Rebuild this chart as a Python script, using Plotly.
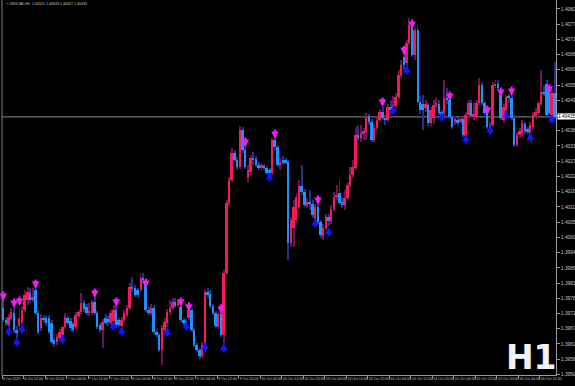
import numpy as np
import plotly.graph_objects as go

# ---------------- data (USDCAD, H1) ----------------
open_ = [
    1.39745, 1.39702, 1.39684, 1.39709, 1.39727, 1.39666, 1.39680, 1.39695, 1.39738, 1.39774,
    1.39799, 1.39774, 1.39810, 1.39727, 1.39673, 1.39709, 1.39709, 1.39709, 1.39691, 1.39630,
    1.39622, 1.39637, 1.39648, 1.39676, 1.39709, 1.39698, 1.39687, 1.39676, 1.39716, 1.39731,
    1.39763, 1.39749, 1.39727, 1.39727, 1.39767, 1.39727, 1.39684, 1.39666, 1.39709, 1.39705,
    1.39691, 1.39698, 1.39738, 1.39702, 1.39680, 1.39702, 1.39720, 1.39745, 1.39821, 1.39817,
    1.39810, 1.39810, 1.39853, 1.39835, 1.39738, 1.39727, 1.39745, 1.39658, 1.39648, 1.39594,
    1.39666, 1.39691, 1.39731, 1.39745, 1.39767, 1.39756, 1.39749, 1.39702, 1.39698, 1.39709,
    1.39738, 1.39666, 1.39612, 1.39594, 1.39572, 1.39612, 1.39803, 1.39796, 1.39752, 1.39727,
    1.39676, 1.39724, 1.39648, 1.39871, 1.40124, 1.40207, 1.40305, 1.40279, 1.40254, 1.40388,
    1.40316, 1.40218, 1.40236, 1.40287, 1.40283, 1.40261, 1.40250, 1.40258, 1.40250, 1.40243,
    1.40232, 1.40352, 1.40326, 1.40261, 1.40279, 1.40279, 1.40272, 1.39980, 1.40034, 1.40063,
    1.40110, 1.40185, 1.40164, 1.40117, 1.40128, 1.40121, 1.40070, 1.40110, 1.40056, 1.40005,
    1.40034, 1.40074, 1.40059, 1.40102, 1.40146, 1.40160, 1.40128, 1.40117, 1.40142, 1.40189,
    1.40225, 1.40250, 1.40370, 1.40359, 1.40373, 1.40380, 1.40438, 1.40417, 1.40352, 1.40395,
    1.40424, 1.40453, 1.40431, 1.40424, 1.40471, 1.40460, 1.40474, 1.40507, 1.40586, 1.40651,
    1.40630, 1.40702, 1.40759, 1.40658, 1.40749, 1.40489, 1.40482, 1.40467, 1.40478, 1.40413,
    1.40431, 1.40474, 1.40482, 1.40453, 1.40449, 1.40503, 1.40496, 1.40435, 1.40417, 1.40424,
    1.40417, 1.40427, 1.40366, 1.40442, 1.40485, 1.40438, 1.40435, 1.40485, 1.40550, 1.40485,
    1.40449, 1.40406, 1.40406, 1.40550, 1.40554, 1.40514, 1.40424, 1.40460, 1.40507, 1.40503,
    1.40431, 1.40334, 1.40370, 1.40377, 1.40409, 1.40391, 1.40377, 1.40398, 1.40438, 1.40449,
    1.40482, 1.40525, 1.40554, 1.40539, 1.40442, 1.40521,
]
high = [
    1.39774, 1.39709, 1.39723, 1.39745, 1.39756, 1.39680, 1.39745, 1.39752, 1.39810, 1.39821,
    1.39817, 1.39817, 1.39821, 1.39734, 1.39724, 1.39720, 1.39716, 1.39720, 1.39702, 1.39640,
    1.39651, 1.39669, 1.39684, 1.39727, 1.39716, 1.39709, 1.39695, 1.39731, 1.39738, 1.39799,
    1.39774, 1.39760, 1.39763, 1.39774, 1.39785, 1.39734, 1.39691, 1.39705, 1.39724, 1.39716,
    1.39738, 1.39756, 1.39752, 1.39709, 1.39713, 1.39738, 1.39756, 1.39835, 1.39857, 1.39828,
    1.39817, 1.39868, 1.39871, 1.39843, 1.39749, 1.39760, 1.39756, 1.39669, 1.39655, 1.39684,
    1.39709, 1.39742, 1.39774, 1.39781, 1.39781, 1.39778, 1.39756, 1.39709, 1.39705, 1.39742,
    1.39745, 1.39673, 1.39619, 1.39601, 1.39622, 1.39810, 1.39817, 1.39810, 1.39760, 1.39734,
    1.39731, 1.39731, 1.39882, 1.40135, 1.40218, 1.40323, 1.40316, 1.40290, 1.40402, 1.40398,
    1.40334, 1.40261, 1.40297, 1.40308, 1.40294, 1.40272, 1.40269, 1.40265, 1.40258, 1.40250,
    1.40359, 1.40359, 1.40334, 1.40287, 1.40294, 1.40287, 1.40279, 1.40074, 1.40135, 1.40160,
    1.40207, 1.40261, 1.40175, 1.40142, 1.40171, 1.40135, 1.40121, 1.40121, 1.40063, 1.40048,
    1.40084, 1.40084, 1.40117, 1.40164, 1.40189, 1.40207, 1.40142, 1.40171, 1.40200, 1.40254,
    1.40279, 1.40398, 1.40406, 1.40406, 1.40395, 1.40449, 1.40445, 1.40427, 1.40406, 1.40435,
    1.40463, 1.40474, 1.40442, 1.40482, 1.40496, 1.40510, 1.40521, 1.40604, 1.40640, 1.40662,
    1.40713, 1.40792, 1.40785, 1.40756, 1.40767, 1.40510, 1.40514, 1.40496, 1.40485, 1.40471,
    1.40496, 1.40503, 1.40496, 1.40460, 1.40568, 1.40539, 1.40500, 1.40442, 1.40438, 1.40435,
    1.40438, 1.40435, 1.40453, 1.40496, 1.40496, 1.40485, 1.40496, 1.40575, 1.40561, 1.40492,
    1.40453, 1.40417, 1.40561, 1.40568, 1.40568, 1.40518, 1.40482, 1.40514, 1.40518, 1.40514,
    1.40442, 1.40380, 1.40395, 1.40424, 1.40417, 1.40398, 1.40417, 1.40453, 1.40467, 1.40496,
    1.40604, 1.40546, 1.40568, 1.40546, 1.40532, 1.40633,
]
low = [
    1.39695, 1.39680, 1.39676, 1.39702, 1.39655, 1.39637, 1.39666, 1.39684, 1.39731, 1.39756,
    1.39763, 1.39767, 1.39720, 1.39651, 1.39662, 1.39691, 1.39680, 1.39651, 1.39615, 1.39604,
    1.39612, 1.39626, 1.39640, 1.39669, 1.39684, 1.39662, 1.39658, 1.39669, 1.39709, 1.39724,
    1.39731, 1.39720, 1.39716, 1.39720, 1.39720, 1.39669, 1.39658, 1.39601, 1.39684, 1.39680,
    1.39684, 1.39695, 1.39676, 1.39676, 1.39676, 1.39695, 1.39713, 1.39738, 1.39803, 1.39785,
    1.39785, 1.39803, 1.39832, 1.39731, 1.39720, 1.39720, 1.39651, 1.39640, 1.39586, 1.39539,
    1.39658, 1.39676, 1.39720, 1.39738, 1.39745, 1.39749, 1.39695, 1.39684, 1.39687, 1.39702,
    1.39658, 1.39604, 1.39586, 1.39561, 1.39565, 1.39601, 1.39781, 1.39745, 1.39720, 1.39673,
    1.39669, 1.39640, 1.39619, 1.39864, 1.40113, 1.40200, 1.40272, 1.40243, 1.40247, 1.40305,
    1.40247, 1.40200, 1.40225, 1.40261, 1.40254, 1.40243, 1.40243, 1.40243, 1.40225, 1.40229,
    1.40225, 1.40316, 1.40254, 1.40243, 1.40261, 1.40265, 1.39918, 1.39965, 1.39965, 1.40056,
    1.40102, 1.40153, 1.40110, 1.40106, 1.40099, 1.40070, 1.40056, 1.40048, 1.39998, 1.39991,
    1.40027, 1.40041, 1.40048, 1.40095, 1.40135, 1.40117, 1.40106, 1.40099, 1.40135, 1.40178,
    1.40214, 1.40243, 1.40348, 1.40344, 1.40352, 1.40352, 1.40406, 1.40344, 1.40344, 1.40388,
    1.40417, 1.40424, 1.40406, 1.40417, 1.40449, 1.40456, 1.40467, 1.40500, 1.40575, 1.40604,
    1.40619, 1.40695, 1.40651, 1.40640, 1.40478, 1.40445, 1.40388, 1.40453, 1.40402, 1.40402,
    1.40409, 1.40467, 1.40442, 1.40435, 1.40438, 1.40482, 1.40427, 1.40391, 1.40406, 1.40406,
    1.40409, 1.40362, 1.40362, 1.40435, 1.40431, 1.40424, 1.40427, 1.40478, 1.40478, 1.40442,
    1.40391, 1.40388, 1.40398, 1.40539, 1.40532, 1.40424, 1.40413, 1.40453, 1.40485, 1.40424,
    1.40326, 1.40326, 1.40359, 1.40366, 1.40373, 1.40373, 1.40373, 1.40391, 1.40427, 1.40442,
    1.40474, 1.40510, 1.40435, 1.40442, 1.40435, 1.40427,
]
close = [
    1.39702, 1.39691, 1.39713, 1.39731, 1.39666, 1.39655, 1.39709, 1.39738, 1.39792, 1.39803,
    1.39774, 1.39785, 1.39727, 1.39658, 1.39709, 1.39702, 1.39691, 1.39658, 1.39622, 1.39615,
    1.39640, 1.39658, 1.39676, 1.39713, 1.39691, 1.39673, 1.39666, 1.39720, 1.39731, 1.39763,
    1.39742, 1.39727, 1.39734, 1.39767, 1.39727, 1.39676, 1.39666, 1.39695, 1.39691, 1.39695,
    1.39727, 1.39738, 1.39684, 1.39684, 1.39702, 1.39727, 1.39745, 1.39821, 1.39814, 1.39792,
    1.39792, 1.39853, 1.39846, 1.39738, 1.39727, 1.39745, 1.39658, 1.39648, 1.39594, 1.39673,
    1.39695, 1.39731, 1.39745, 1.39767, 1.39752, 1.39767, 1.39702, 1.39691, 1.39691, 1.39738,
    1.39666, 1.39612, 1.39594, 1.39572, 1.39612, 1.39803, 1.39792, 1.39752, 1.39727, 1.39680,
    1.39724, 1.39648, 1.39871, 1.40124, 1.40207, 1.40305, 1.40279, 1.40254, 1.40388, 1.40316,
    1.40254, 1.40243, 1.40287, 1.40279, 1.40261, 1.40254, 1.40261, 1.40250, 1.40232, 1.40232,
    1.40352, 1.40326, 1.40261, 1.40272, 1.40269, 1.40272, 1.39980, 1.40063, 1.40110, 1.40146,
    1.40185, 1.40164, 1.40117, 1.40128, 1.40121, 1.40081, 1.40110, 1.40056, 1.40009, 1.40034,
    1.40074, 1.40059, 1.40102, 1.40146, 1.40153, 1.40124, 1.40117, 1.40142, 1.40189, 1.40225,
    1.40254, 1.40370, 1.40359, 1.40377, 1.40384, 1.40435, 1.40417, 1.40352, 1.40395, 1.40424,
    1.40453, 1.40431, 1.40424, 1.40471, 1.40460, 1.40478, 1.40507, 1.40586, 1.40622, 1.40622,
    1.40702, 1.40767, 1.40658, 1.40749, 1.40489, 1.40460, 1.40460, 1.40482, 1.40413, 1.40460,
    1.40478, 1.40485, 1.40449, 1.40442, 1.40503, 1.40496, 1.40435, 1.40398, 1.40427, 1.40413,
    1.40427, 1.40370, 1.40442, 1.40485, 1.40438, 1.40445, 1.40485, 1.40550, 1.40485, 1.40449,
    1.40398, 1.40395, 1.40550, 1.40554, 1.40539, 1.40431, 1.40471, 1.40507, 1.40505, 1.40431,
    1.40334, 1.40370, 1.40384, 1.40413, 1.40384, 1.40380, 1.40406, 1.40442, 1.40453, 1.40485,
    1.40525, 1.40518, 1.40442, 1.40449, 1.40521, 1.40435,
]

# signal arrows: bar index and price (centre of arrow)
sell_bars = [0, 4, 6, 12, 34, 42, 53, 66, 69, 81, 90, 101, 117, 141, 149, 152, 166, 180, 185, 189, 203]
sell_prices = [1.39788, 1.39763, 1.39770, 1.39832, 1.39799, 1.39767, 1.39835, 1.39767, 1.39749, 1.39742,
               1.40344, 1.40373, 1.40135, 1.40489, 1.40676, 1.40770, 1.40510, 1.40460, 1.40525, 1.40528,
               1.40536]
buy_bars = [2, 5, 7, 22, 41, 44, 61, 68, 75, 82, 99, 116, 121, 145, 150, 163, 172, 181, 187, 196, 204]
buy_prices = [1.39662, 1.39622, 1.39669, 1.39633, 1.39680, 1.39662, 1.39658, 1.39680, 1.39604, 1.39601,
              1.40218, 1.40052, 1.40020, 1.40460, 1.40604, 1.40435, 1.40355, 1.40388, 1.40442, 1.40362,
              1.40427]

# time axis labels (bar index of each label)
time_label_bars = [0, 8, 16, 24, 32, 40, 48, 56, 64, 72, 80, 88, 96, 104, 112, 120, 128, 136,
                   144, 152, 160, 168, 176, 184, 192, 200]
time_labels = ["6 Oct 2025", "6 Oct 12:00", "6 Oct 20:00", "7 Oct 04:00", "7 Oct 12:00", "7 Oct 20:00",
               "8 Oct 04:00", "8 Oct 12:00", "8 Oct 20:00", "9 Oct 04:00", "9 Oct 12:00", "9 Oct 20:00",
               "10 Oct 04:00", "10 Oct 12:00", "10 Oct 20:00", "13 Oct 04:00", "13 Oct 12:00",
               "13 Oct 20:00", "14 Oct 04:00", "14 Oct 12:00", "14 Oct 20:00", "15 Oct 04:00",
               "15 Oct 12:00", "15 Oct 20:00", "16 Oct 04:00", "16 Oct 12:00"]

price_ticks = [1.40825, 1.40770, 1.40715, 1.40660, 1.40605, 1.40550, 1.40495, 1.40440, 1.40385,
               1.40330, 1.40275, 1.40220, 1.40165, 1.40110, 1.40055, 1.40000, 1.39945, 1.39890,
               1.39835, 1.39780, 1.39725, 1.39670, 1.39615, 1.39560, 1.39505]

symbol = "USDCAD,H1"
timeframe = "H1"

# ---------------- styles ----------------
UP = "#F5195A"
DOWN = "#1E90FF"
UP_WICK = "#6A1458"
DOWN_WICK = "#23318A"
SELL = "#F01EF0"
BUY = "#1414FF"
AXIS = "#9a9a9a"
TXT = "#c8c8c8"

o = np.array(open_)
h = np.array(high)
l = np.array(low)
c = np.array(close)
x = np.arange(len(c))
up = c > o

body_base = np.minimum(o, c)
body_size = np.maximum(np.abs(c - o), 0.00002)

fig = go.Figure()
fig.add_trace(go.Bar(
    x=x, base=l, y=h - l, width=0.36,
    marker=dict(color=np.where(up, UP_WICK, DOWN_WICK).tolist(), line=dict(width=0)),
    hoverinfo="skip", showlegend=False))
fig.add_trace(go.Bar(
    x=x, base=body_base, y=body_size, width=0.74,
    marker=dict(color=np.where(up, UP, DOWN).tolist(), line=dict(width=0)),
    hoverinfo="skip", showlegend=False))

# arrows (stem + head) drawn as annotation arrows anchored at each signal
for b, p in zip(sell_bars, sell_prices):
    fig.add_annotation(x=b, y=p, xref="x", yref="y", text="", showarrow=True,
                       ax=0, ay=-11, arrowhead=2, arrowsize=0.72, arrowwidth=2.1,
                       arrowcolor=SELL, yshift=-5)
for b, p in zip(buy_bars, buy_prices):
    fig.add_annotation(x=b, y=p, xref="x", yref="y", text="", showarrow=True,
                       ax=0, ay=11, arrowhead=2, arrowsize=0.72, arrowwidth=2.1,
                       arrowcolor=BUY, yshift=5)

last = close[-1]
fig.add_shape(type="line", xref="paper", x0=0, x1=1, yref="y", y0=last, y1=last,
              line=dict(color="#8a8a8a", width=1), layer="below")
fig.add_shape(type="line", xref="paper", x0=0, x1=0, yref="paper", y0=0, y1=1,
              line=dict(color="#808080", width=1))

fig.add_annotation(xref="paper", yref="y", x=1, y=last, xanchor="left", yanchor="middle",
                   xshift=1, text=f"{last:.5f}", showarrow=False, bgcolor="#ffffff",
                   borderpad=0, font=dict(family="Liberation Sans", size=4.8, color="#000000"))
fig.add_annotation(xref="paper", yref="paper", x=0.006, y=1, xanchor="left", yanchor="top",
                   text=f"▪ {symbol}  {open_[-1]:.5f} {high[-1]:.5f} {low[-1]:.5f} {close[-1]:.5f}",
                   showarrow=False, font=dict(family="Liberation Sans", size=3.6, color=TXT))
fig.add_annotation(xref="paper", yref="paper", x=1.006, y=0.012, xanchor="right", yanchor="bottom",
                   yshift=-8, text=f"<b>{timeframe}</b>", showarrow=False,
                   font=dict(family="DejaVu Sans", size=33, color="#f2f2f2"))

fig.update_layout(
    width=575, height=386,
    margin=dict(l=2, r=19, t=0, b=11, autoexpand=False),
    paper_bgcolor="#000000", plot_bgcolor="#000000",
    barmode="overlay", bargap=0,
    showlegend=False,
    xaxis=dict(range=[-0.5, len(c) - 0.5], showgrid=False, zeroline=False,
               showline=True, linecolor=AXIS, linewidth=1,
               ticks="outside", ticklen=3, tickcolor=AXIS, tickangle=0,
               tickvals=[b - 0.5 for b in time_label_bars], ticktext=time_labels,
               ticklabelposition="outside right",
               tickfont=dict(family="Liberation Sans", size=3.6, color=TXT), fixedrange=True),
    yaxis=dict(range=[1.39503, 1.40857], side="right", showgrid=False, zeroline=False,
               showline=True, linecolor=AXIS, linewidth=1,
               ticks="outside", ticklen=3, tickcolor=AXIS,
               tickvals=price_ticks, ticktext=[f"{v:.5f}" for v in price_ticks],
               tickfont=dict(family="Liberation Sans", size=4.8, color=TXT), fixedrange=True),
)

fig.write_html("out.html", config={"displayModeBar": False})
